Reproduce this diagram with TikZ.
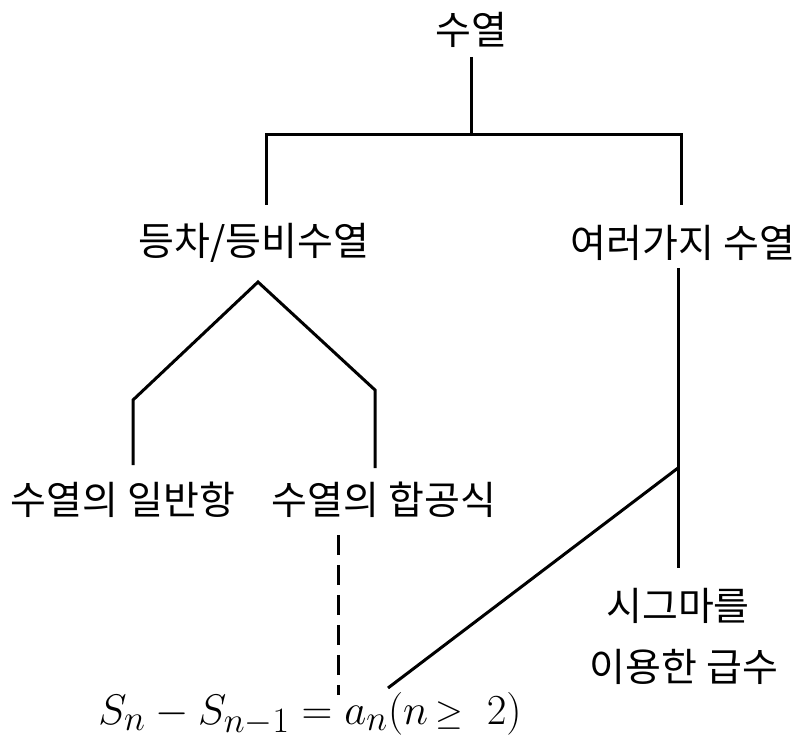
\documentclass[tikz,border=0pt]{standalone}
\usepackage{graphicx}
\usepackage{fontspec}
\newfontfamily\kr{Noto Sans CJK KR}
\begin{document}
\begin{tikzpicture}[x=1pt,y=-1pt,
  lbl/.style={font=\kr\fontsize{39}{42}\selectfont, inner sep=0pt},
  conn/.style={line width=3pt, line join=miter},
  dconn/.style={line width=3pt, dash pattern=on 20pt off 10pt}]
\useasboundingbox (0,0) rectangle (801,743);
\node[lbl] (root) at (471,30) {수열};
\node[lbl] (ap) at (254,243) {등차/등비수열};
\node[lbl] (var) at (683,243) {여러가지 수열};
\node[lbl] (gen) at (123,500) {수열의 일반항};
\node[lbl] (sum) at (384,500) {수열의 합공식};
\node[lbl] (sig1) at (678,606) {시그마를};
\node[lbl] (sig2) at (684,667) {이용한 급수};
\node[font=\fontsize{24.88}{30}\selectfont, inner sep=0pt] (f) at (310,714) {\scalebox{1.72}{$S_n - S_{n-1} = a_n(n\,{\scriptstyle\geq}\;\;2)$}};
% root branch
\coordinate (r0) at (471,57);
\coordinate (j) at (471,135);
\coordinate (jl) at (266,135);
\coordinate (jr) at (681,135);
\coordinate (apt) at (266,205);
\coordinate (vart) at (681,205);
\draw[conn] (r0) -- (j);
\draw[conn] (apt) -- (jl) -- (jr) -- (vart);
% A shape
\coordinate (apex) at (258,282);
\coordinate (lb) at (133,400);
\coordinate (gent) at (133,465);
\coordinate (rb) at (375,390);
\coordinate (sumt) at (375,468);
\draw[conn] (gent) -- (lb) -- (apex) -- (rb) -- (sumt);
% right
\coordinate (varb) at (678,268);
\coordinate (dj) at (678,468);
\coordinate (sigt) at (678,568);
\coordinate (fe) at (388,688);
\draw[conn] (varb) -- (sigt);
\draw[conn] (dj) -- (fe);
% dashed
\coordinate (ds) at (338,535);
\coordinate (de) at (338,695);
\draw[dconn] (ds) -- (de);
\end{tikzpicture}
\end{document}
